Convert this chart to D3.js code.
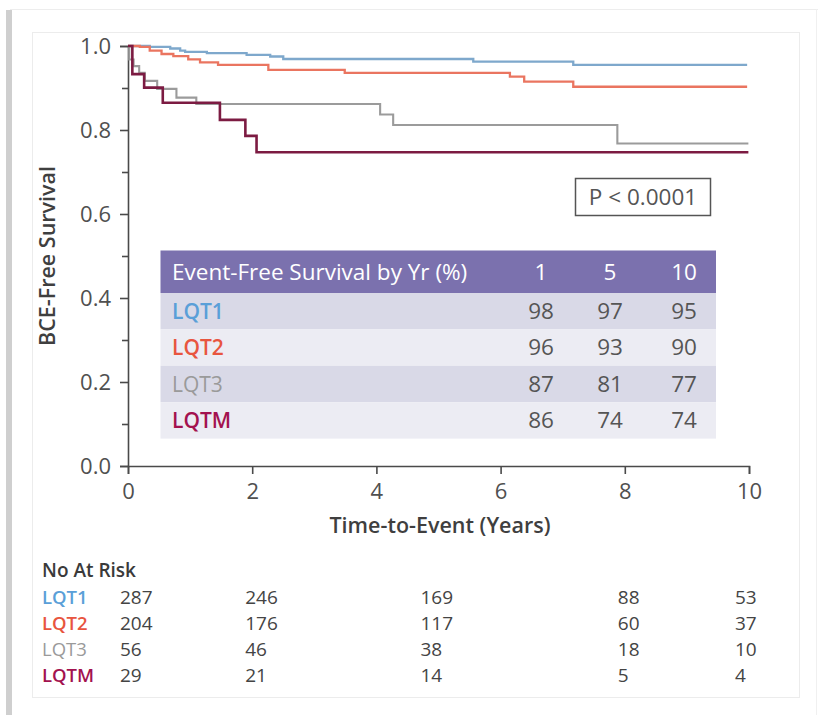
<!DOCTYPE html>
<html><head><meta charset="utf-8">
<script src="https://cdn.jsdelivr.net/npm/d3@7"></script>
<style>body{margin:0;background:#fff}svg{display:block}text{font-family:"Open Sans","Noto Sans",sans-serif}</style>
</head><body>
<svg id="c" width="818" height="715"></svg>
<script>
// ---- data ----
const groups = ["LQT1","LQT2","LQT3","LQTM"];
const lqt1Time = [0, 0.35, 0.68, 0.84, 0.92, 1.27, 1.91, 2.29, 2.50, 5.56, 7.17, 9.97];
const lqt1Surv = [1.0, 0.998, 0.994, 0.989, 0.986, 0.983, 0.979, 0.975, 0.969, 0.963, 0.955, 0.955];
const lqt2Time = [0, 0.19, 0.35, 0.54, 0.73, 0.97, 1.16, 1.45, 2.26, 3.49, 6.15, 6.38, 7.17, 9.97];
const lqt2Surv = [1.0, 0.998, 0.989, 0.981, 0.976, 0.968, 0.961, 0.955, 0.943, 0.936, 0.927, 0.915, 0.903, 0.903];
const lqt3Time = [0, 0.02, 0.09, 0.18, 0.27, 0.47, 0.78, 1.10, 4.06, 4.27, 7.88, 9.99];
const lqt3Surv = [1.0, 0.968, 0.952, 0.936, 0.917, 0.898, 0.877, 0.862, 0.837, 0.812, 0.768, 0.768];
const lqtmTime = [0, 0.07, 0.26, 0.56, 1.48, 1.89, 2.07, 9.99];
const lqtmSurv = [1.0, 0.933, 0.901, 0.865, 0.824, 0.786, 0.747, 0.747];
const tableYears = ["1","5","10"];
const tableValues = [[98,97,95],[96,93,90],[87,81,77],[86,74,74]];
const riskTimes = [0, 2, 5, 8, 10];
const riskCounts = [[287,246,169,88,53],[204,176,117,60,37],[56,46,38,18,10],[29,21,14,5,4]];
const xTicks = [0,2,4,6,8,10];
const yTicks = [0,0.2,0.4,0.6,0.8,1.0];
const yMinorTicks = [0.1,0.3,0.5,0.7,0.9];
const pText = "P < 0.0001";

// ---- styles ----
const lineColor = {LQT1:"#7ea8cc", LQT2:"#ea7560", LQT3:"#9b9b9b", LQTM:"#7c1b42"};
const textColor = {LQT1:"#5a9fd8", LQT2:"#e8553f", LQT3:"#9a9a9a", LQTM:"#a3124f"};
const lineWidth = {LQT1:2.3, LQT2:2.3, LQT3:2.1, LQTM:2.6};

const svg = d3.select("#c");
// card frame
svg.append("rect").attr("x",0).attr("y",0).attr("width",818).attr("height",715).attr("fill","#fff");
svg.append("line").attr("x1",10).attr("x2",818).attr("y1",9.5).attr("y2",9.5).attr("stroke","#ededed");
svg.append("line").attr("x1",816.5).attr("x2",816.5).attr("y1",9.5).attr("y2",715).attr("stroke","#f0f0f0");
svg.append("rect").attr("x",6).attr("y",10).attr("width",6).attr("height",705).attr("fill","#cfcfcf");
svg.append("rect").attr("x",32.5).attr("y",32.5).attr("width",767).attr("height",665).attr("fill","none").attr("stroke","#ececec");

const x = d3.scaleLinear().domain([0,10]).range([128,749]);
const y = d3.scaleLinear().domain([0,1]).range([466,46]);

// axes
const axisColor = "#4a4a4a";
svg.append("g").attr("transform",`translate(0,${y(0)})`)
  .call(d3.axisBottom(x).tickValues(xTicks).tickSize(8).tickPadding(9).tickFormat(d3.format("d")));
svg.append("g").attr("transform",`translate(${x(0)},0)`)
  .call(d3.axisLeft(y).tickValues(yTicks).tickSize(8).tickPadding(9).tickFormat(d3.format(".1f")));
svg.append("g").attr("transform",`translate(${x(0)},0)`)
  .call(d3.axisLeft(y).tickValues(yMinorTicks).tickSize(6).tickFormat(""))
  .call(g=>g.select(".domain").remove());
svg.selectAll(".domain").attr("stroke",axisColor).attr("stroke-width",1.6);
svg.selectAll(".tick line").attr("stroke",axisColor).attr("stroke-width",1.6);
svg.selectAll(".tick text").attr("fill","#505050").attr("font-size",22).attr("font-family","'Open Sans',sans-serif");

// axis titles
svg.append("text").attr("x",440).attr("y",533).attr("text-anchor","middle")
  .attr("font-size",21.5).attr("font-weight",600).attr("fill","#3f3f3f").text("Time-to-Event (Years)");
svg.append("text").attr("transform",`translate(55,${y(0.5)}) rotate(-90)`).attr("text-anchor","middle")
  .attr("font-size",21.5).attr("font-weight",600).attr("fill","#3f3f3f").text("BCE-Free Survival");

// curves
const series = [
  {name:"LQT1", t:lqt1Time, s:lqt1Surv},
  {name:"LQT2", t:lqt2Time, s:lqt2Surv},
  {name:"LQT3", t:lqt3Time, s:lqt3Surv},
  {name:"LQTM", t:lqtmTime, s:lqtmSurv}
];
const line = d3.line().x(d=>x(d[0])).y(d=>y(d[1])).curve(d3.curveStepAfter);
svg.append("g").selectAll("path").data(series).join("path")
  .attr("d",d=>line(d.t.map((t,i)=>[t,d.s[i]])))
  .attr("fill","none").attr("stroke",d=>lineColor[d.name]).attr("stroke-width",d=>lineWidth[d.name]);

// P box
svg.append("rect").attr("x",575.5).attr("y",178.5).attr("width",135).attr("height",37)
  .attr("fill","#fff").attr("stroke","#555").attr("stroke-width",1.5);
svg.append("text").attr("x",643).attr("y",205).attr("text-anchor","middle")
  .attr("font-size",22.5).attr("fill","#555").text(pText);

// table
const tX = 160.5, tW = 555.5, tY = 250.5, hH = 42.5, rH = 36.4;
const colX = [541, 610, 684];
svg.append("rect").attr("x",tX).attr("y",tY).attr("width",tW).attr("height",hH).attr("fill","#7b71ae");
svg.append("text").attr("x",172).attr("y",tY+29).attr("font-size",22.5).attr("fill","#fff").text("Event-Free Survival by Yr (%)");
svg.selectAll(".hy").data(tableYears).join("text").attr("class","hy")
  .attr("x",(d,i)=>colX[i]).attr("y",tY+29).attr("text-anchor","middle").attr("font-size",22.5).attr("fill","#fff").text(d=>d);
const rows = svg.append("g").selectAll("g").data(groups).join("g")
  .attr("transform",(d,i)=>`translate(0,${tY+hH+i*rH})`);
rows.append("rect").attr("x",tX).attr("width",tW).attr("height",rH).attr("fill",(d,i)=>i%2===0?"#d9d9e7":"#ececf3");
rows.append("text").attr("x",172).attr("y",26).attr("font-size",21).attr("font-weight",(d)=>d==="LQT3"?400:600)
  .attr("fill",d=>textColor[d]).text(d=>d);
rows.selectAll(".v").data((d,i)=>tableValues[i]).join("text").attr("class","v")
  .attr("x",(d,i)=>colX[i]).attr("y",26).attr("text-anchor","middle").attr("font-size",22.5).attr("fill","#555").text(d=>d);

// number at risk
svg.append("text").attr("x",42).attr("y",577).attr("font-size",19).attr("font-weight",600).attr("fill","#3a3a3a").text("No At Risk");
const riskNudge = [-8, -7, -18, -7, -14];
const rr = svg.append("g").selectAll("g").data(groups).join("g")
  .attr("transform",(d,i)=>`translate(0,${604+i*26})`);
rr.append("text").attr("x",42).attr("font-size",18.5).attr("font-weight",d=>d==="LQT3"?400:600)
  .attr("fill",d=>textColor[d]).text(d=>d);
rr.selectAll(".n").data((d,i)=>riskCounts[i]).join("text").attr("class","n")
  .attr("x",(d,i)=>x(riskTimes[i])+riskNudge[i]).attr("font-size",19).attr("fill","#444").text(d=>d);
</script>
</body></html>
